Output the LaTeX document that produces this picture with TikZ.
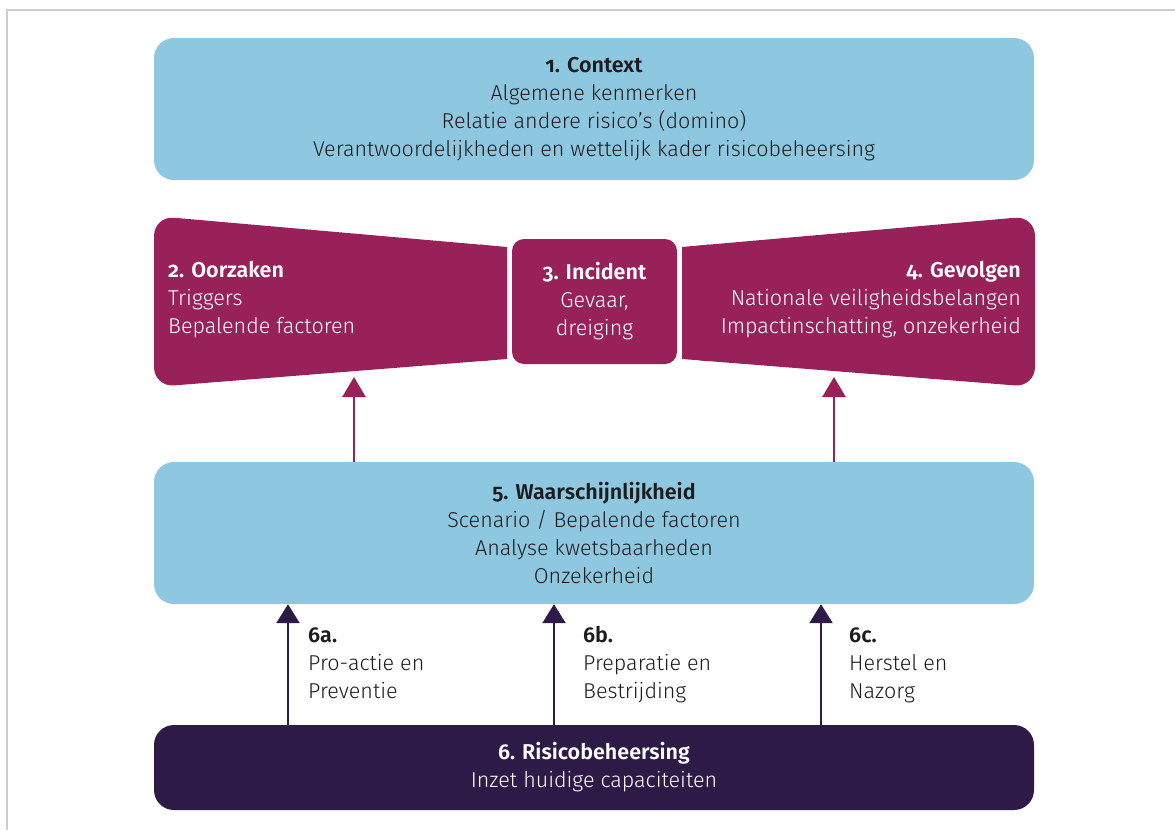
\documentclass[tikz,border=0pt]{standalone}
\usepackage{fontspec}
\setmainfont{Fira Sans Light}[Numbers=OldStyle, BoldFont={Fira Sans SemiBold}]
\usetikzlibrary{arrows.meta}
\definecolor{lblue}{HTML}{8EC8E0}
\definecolor{mag}{HTML}{982159}
\definecolor{dpurp}{HTML}{2E1A47}
\definecolor{txt}{HTML}{1C1C1C}
\begin{document}
\begin{tikzpicture}[x=1pt,y=-1pt,
  fs/.style={font=\fontsize{21.5}{28}\selectfont},
  bluebox/.style={fill=lblue, rounded corners=20pt, inner sep=0pt, minimum width=880pt, text=txt, fs, align=center},
  magarrow/.style={draw=mag, line width=2.5pt, -{Triangle[width=23pt,length=20pt]}},
  darrow/.style={draw=dpurp, line width=2.5pt, -{Triangle[width=23pt,length=19pt]}},
  lbl/.style={fs, text=txt, align=left, anchor=base west, inner sep=0pt}
]
\useasboundingbox (0,0) rectangle (1175,830);
\fill[white] (0,0) rectangle (1175,830);
\draw[gray!40, line width=1.5pt] (7,830) -- (7,10) -- (1175,10);

% 1. Context
\node[bluebox, minimum height=142pt] (ctx) at (594,109) {\textbf{1. Context}\\Algemene kenmerken\\Relatie andere risico’s (domino)\\Verantwoordelijkheden en wettelijk kader risicobeheersing};

% 2. Oorzaken (left bow tie)
\fill[mag, rounded corners=20pt] (507,247) -- (154,216) -- (154,387) -- (507,359) -- cycle;
\fill[mag] (480,244.6) -- (507,247) -- (507,359) -- (480,361.1) -- cycle;
\node[fs, text=white, align=left, anchor=west, inner sep=0pt] (oorz) at (168,300) {\textbf{2. Oorzaken}\\Triggers\\Bepalende factoren};

% 4. Gevolgen (right bow tie)
\fill[mag, rounded corners=20pt] (682,247) -- (1035,216) -- (1035,387) -- (682,359) -- cycle;
\fill[mag] (709,244.6) -- (682,247) -- (682,359) -- (709,361.1) -- cycle;
\node[fs, text=white, align=right, anchor=east, inner sep=0pt] (gev) at (1021,300) {\textbf{4. Gevolgen}\\Nationale veiligheidsbelangen\\Impactinschatting, onzekerheid};

% 3. Incident
\node[fill=mag, rounded corners=12pt, minimum width=165pt, minimum height=125pt, inner sep=0pt, text=white, fs, align=center] (inc) at (594.5,301.5) {\textbf{3. Incident}\\Gevaar,\\dreiging};

% 5. Waarschijnlijkheid
\node[bluebox, minimum height=142pt] (waar) at (594,533) {\textbf{5. Waarschijnlijkheid}\\Scenario / Bepalende factoren\\Analyse kwetsbaarheden\\Onzekerheid};

% 6. Risicobeheersing
\node[fill=dpurp, rounded corners=20pt, minimum width=880pt, minimum height=85pt, inner sep=0pt, text=white, fs, align=center] (risb) at (594,767.5) {\textbf{6. Risicobeheersing}\\Inzet huidige capaciteiten};

% magenta arrows
\coordinate (tL) at (354,377);
\coordinate (tR) at (834,377);
\draw[magarrow] (waar.north -| tL) -- (tL);
\draw[magarrow] (waar.north -| tR) -- (tR);

% dark arrows
\coordinate (a6a) at (288,0);
\coordinate (a6b) at (554,0);
\coordinate (a6c) at (821,0);
\draw[darrow] (risb.north -| a6a) -- (waar.south -| a6a);
\draw[darrow] (risb.north -| a6b) -- (waar.south -| a6b);
\draw[darrow] (risb.north -| a6c) -- (waar.south -| a6c);

\node[lbl] (l6a) at (308,698) {\textbf{6a.}\\Pro-actie en\\Preventie};
\node[lbl] (l6b) at (583,698) {\textbf{6b.}\\Preparatie en\\Bestrijding};
\node[lbl] (l6c) at (849,698) {\textbf{6c.}\\Herstel en\\Nazorg};
\end{tikzpicture}
\end{document}
